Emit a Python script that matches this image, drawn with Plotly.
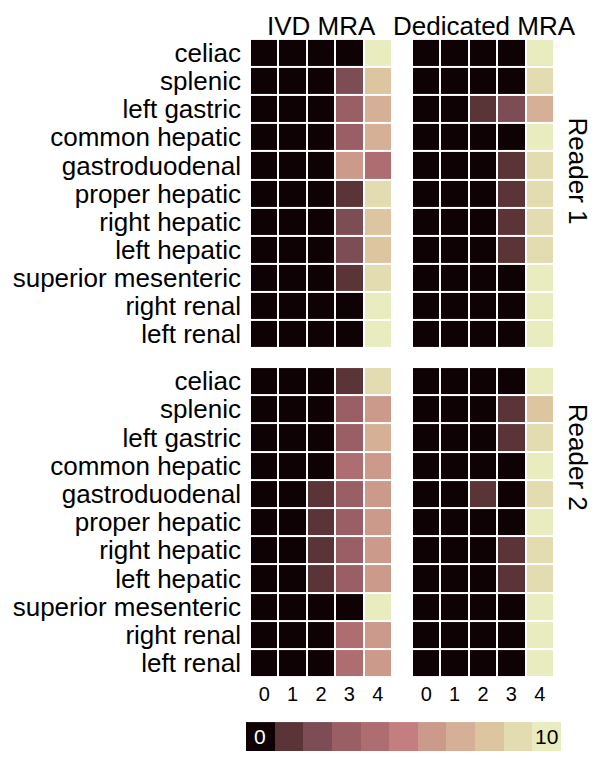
import plotly.graph_objects as go

# counts per grade (0-4) for each vessel, 10 cases each
vessels = ["celiac", "splenic", "left gastric", "common hepatic", "gastroduodenal",
           "proper hepatic", "right hepatic", "left hepatic", "superior mesenteric",
           "right renal", "left renal"]
grades = ["0", "1", "2", "3", "4"]

r1_ivd = [[0, 0, 0, 0, 10], [0, 0, 0, 2, 8], [0, 0, 0, 3, 7], [0, 0, 0, 3, 7],
          [0, 0, 0, 6, 4], [0, 0, 0, 1, 9], [0, 0, 0, 2, 8], [0, 0, 0, 2, 8],
          [0, 0, 0, 1, 9], [0, 0, 0, 0, 10], [0, 0, 0, 0, 10]]
r1_ded = [[0, 0, 0, 0, 10], [0, 0, 0, 0, 9], [0, 0, 1, 2, 7], [0, 0, 0, 0, 10],
          [0, 0, 0, 1, 9], [0, 0, 0, 1, 9], [0, 0, 0, 1, 9], [0, 0, 0, 1, 9],
          [0, 0, 0, 0, 10], [0, 0, 0, 0, 10], [0, 0, 0, 0, 10]]
r2_ivd = [[0, 0, 0, 1, 9], [0, 0, 0, 3, 6], [0, 0, 0, 3, 7], [0, 0, 0, 4, 6],
          [0, 0, 1, 3, 6], [0, 0, 1, 3, 6], [0, 0, 1, 3, 6], [0, 0, 1, 3, 6],
          [0, 0, 0, 0, 10], [0, 0, 0, 4, 6], [0, 0, 0, 4, 6]]
r2_ded = [[0, 0, 0, 0, 10], [0, 0, 0, 1, 8], [0, 0, 0, 1, 9], [0, 0, 0, 0, 10],
          [0, 0, 1, 0, 9], [0, 0, 0, 0, 10], [0, 0, 0, 1, 9], [0, 0, 0, 1, 9],
          [0, 0, 0, 0, 10], [0, 0, 0, 0, 10], [0, 0, 0, 0, 10]]

levels = list(range(11))

colors = ["#0e0204", "#5b3437", "#7c4d55", "#9a5f64", "#ad6d71", "#c47e80",
          "#cc9a8b", "#d5b096", "#dcc59f", "#e2dcb0", "#e8ecbf"]
scale = [[i / 10, c] for i, c in enumerate(colors)]

# page has an 8px body margin, so work in page pixels and shift
OFF = 8
W, H = 607 - 2 * OFF, 762 - 2 * OFF
FONT = "Arial, Liberation Sans, sans-serif"

def px_x(a, b):
    return [(a - OFF) / W, (b - OFF) / W]

def px_y(top, bottom):
    return [1 - (bottom - OFF) / H, 1 - (top - OFF) / H]

def pos(x, y):
    return dict(x=(x - OFF) / W, y=1 - (y - OFF) / H)

fig = go.Figure()
for z, xa, ya in [(r1_ivd, "x", "y"), (r1_ded, "x2", "y2"),
                  (r2_ivd, "x3", "y3"), (r2_ded, "x4", "y4")]:
    fig.add_trace(go.Heatmap(z=z, x=grades, y=vessels, xaxis=xa, yaxis=ya,
                             zmin=0, zmax=10, colorscale=scale, showscale=False,
                             xgap=2, ygap=2))

# discrete legend bar
fig.add_trace(go.Heatmap(z=[levels], x=levels, y=[0], xaxis="x5", yaxis="y5",
                         zmin=0, zmax=10, colorscale=scale, showscale=False))

hidden = dict(showticklabels=False, showgrid=False, zeroline=False, ticks="", showline=False)
left, right = px_x(250, 392), px_x(412, 554)
top, bot = px_y(38, 348), px_y(367, 678)

ylab = dict(tickfont=dict(size=26, family=FONT, color="black"), ticks="",
            tickmode="array", tickvals=vessels, ticktext=vessels,
            ticklabelstandoff=8, showgrid=False, zeroline=False, autorange="reversed")
xlab = dict(tickfont=dict(size=20, family=FONT, color="black"), ticks="",
            ticklabelstandoff=3, showgrid=False, zeroline=False)

fig.update_layout(
    width=W, height=H, margin=dict(l=0, r=0, t=0, b=0),
    paper_bgcolor="white", plot_bgcolor="white", showlegend=False,
    xaxis=dict(domain=left, anchor="y", **hidden),
    yaxis=dict(domain=top, anchor="x", **ylab),
    xaxis2=dict(domain=right, anchor="y2", **hidden),
    yaxis2=dict(domain=top, anchor="x2", autorange="reversed", **hidden),
    xaxis3=dict(domain=left, anchor="y3", **xlab),
    yaxis3=dict(domain=bot, anchor="x3", **ylab),
    xaxis4=dict(domain=right, anchor="y4", **xlab),
    yaxis4=dict(domain=bot, anchor="x4", autorange="reversed", **hidden),
    xaxis5=dict(domain=px_x(246, 561), anchor="y5", **hidden),
    yaxis5=dict(domain=px_y(723, 752), anchor="x5", **hidden),
)

ann = dict(xref="paper", yref="paper", showarrow=False, xanchor="center", yanchor="middle",
           font=dict(size=26, family=FONT, color="black"))
title_ann = dict(ann, yanchor="top", y=1)
fig.add_annotation(text="IVD MRA", x=(321 - OFF) / W, **title_ann)
fig.add_annotation(text="Dedicated MRA", x=(484 - OFF) / W, **title_ann)
fig.add_annotation(text="Reader 1", **pos(578, 170), textangle=90, **ann)
fig.add_annotation(text="Reader 2", **pos(578, 457), textangle=90, **ann)

# end labels of the legend bar
fig.add_annotation(text=str(levels[0]), x=levels[0], y=0, xref="x5", yref="y5",
                   showarrow=False, font=dict(size=21, family=FONT, color="white"))
fig.add_annotation(text=str(levels[-1]), x=levels[-1], y=0, xref="x5", yref="y5",
                   showarrow=False, font=dict(size=21, family=FONT, color="black"))

fig.write_html("out.html")
